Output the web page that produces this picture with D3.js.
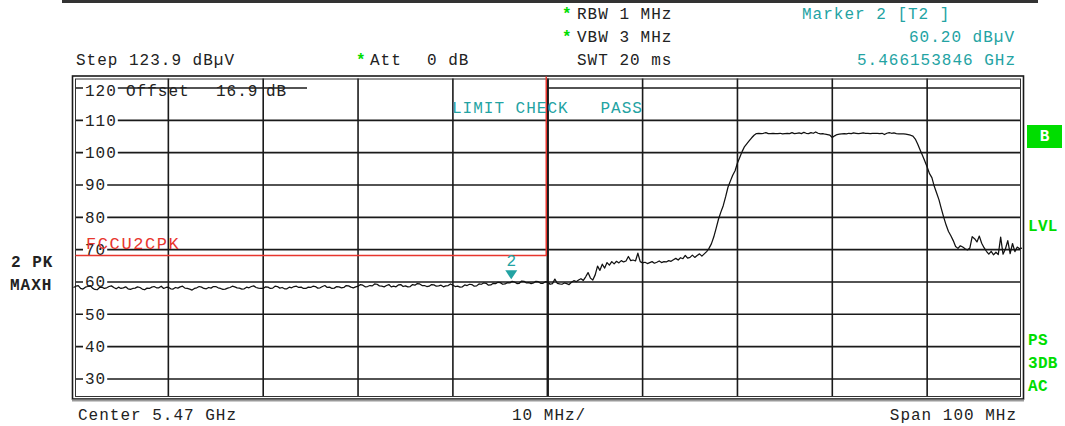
<!DOCTYPE html>
<html><head><meta charset="utf-8">
<script src="https://cdn.jsdelivr.net/npm/d3@7"></script>
<style>
body{margin:0;background:#fff}
svg{display:block;font-family:"Liberation Mono",monospace}
text{white-space:pre}
</style></head><body>
<svg id="c" width="1065" height="426"></svg>
<script>
// ---- data ----
const sweepStartGHz = 5.42;
const sweepStopGHz = 5.52;
const sweepStepGHz = 0.00025;
const traceLevels = [
58.3,58.7,58.9,58.0,57.8,58.4,58.6,58.9,58.1,57.7,57.6,58.3,58.4,58.0,58.2,58.6,58.8,58.3,57.9,58.4,
58.0,58.2,58.5,57.9,57.7,58.0,58.1,58.5,58.3,57.8,57.6,58.1,58.0,58.4,58.6,58.2,58.2,58.7,58.0,58.3,
58.4,57.9,57.8,58.3,58.1,58.5,58.7,58.1,58.0,57.8,57.5,58.0,58.2,58.6,58.4,58.0,57.9,58.3,58.1,58.6,
58.6,58.2,58.0,57.7,57.8,58.1,58.3,58.7,58.5,58.2,58.1,57.8,57.9,58.4,58.2,58.6,58.8,58.3,58.1,58.0,
58.0,58.5,58.4,58.0,58.1,58.7,58.6,58.1,58.3,57.9,57.9,58.4,58.2,58.6,58.7,58.3,58.4,58.0,58.0,58.4,
58.3,58.7,58.6,58.1,58.2,58.6,58.9,58.3,58.4,58.0,58.1,58.6,58.5,58.2,58.3,58.9,58.8,58.4,58.2,58.5,
58.7,59.2,59.0,58.5,58.6,58.9,58.8,59.4,59.3,58.8,58.7,58.5,58.9,59.2,58.5,58.7,58.5,59.1,59.2,58.6,
58.8,58.5,58.6,59.2,59.0,59.5,59.4,58.9,58.9,58.6,58.7,59.2,59.1,58.7,58.8,59.0,58.5,58.8,58.9,59.4,
59.0,58.6,58.7,58.4,58.5,59.1,58.9,59.3,59.2,58.7,58.8,59.4,59.3,59.7,59.6,59.0,59.1,59.6,59.5,59.9,
59.8,59.3,59.4,59.8,59.7,60.2,60.0,59.5,59.6,60.3,60.2,59.7,59.8,59.5,59.7,60.2,60.1,59.6,59.6,60.1,
60.0,
59.3,59.5,60.9,59.6,59.4,59.3,59.7,59.5,59.2,59.9,60.4,60.1,60.6,61.0,60.5,61.6,62.9,61.2,60.6,62.2,
64.9,63.6,65.5,64.3,66.0,65.2,66.3,65.6,66.4,65.9,66.6,66.2,66.5,67.9,66.6,66.8,66.5,68.9,66.3,65.9,
66.1,65.7,66.0,66.3,65.8,66.1,66.5,66.0,66.3,66.2,66.6,66.4,66.9,67.3,66.8,67.5,67.2,68.2,67.4,67.6,
68.3,67.6,68.2,68.7,68.0,68.7,69.4,70.4,71.8,73.9,76.6,79.4,81.6,83.6,86.3,89.3,91.2,93.0,94.4,96.8,
98.6,100.4,101.9,102.8,103.7,104.6,105.4,105.9,106.0,105.9,106.0,106.2,105.9,105.9,106.0,105.9,105.9,106.0,105.8,105.9,
106.0,105.9,106.2,105.9,106.0,106.1,105.9,106.3,106.0,105.9,106.2,106.0,106.4,106.0,105.8,105.9,105.7,105.6,105.4,104.7,
105.2,105.6,105.7,105.8,105.9,105.8,106.0,105.9,106.1,106.0,105.9,106.0,106.1,106.0,106.0,105.9,106.0,106.0,106.0,105.9,
106.0,105.6,106.0,106.2,106.0,106.1,105.9,105.8,105.8,105.8,105.7,105.6,105.4,105.1,104.2,102.7,100.9,99.2,97.4,95.6,
93.5,92.3,89.6,87.5,85.4,82.6,80.0,77.6,75.6,74.3,72.8,71.0,70.4,71.2,70.8,70.3,69.9,70.5,74.0,73.4,
72.4,74.2,72.0,70.6,69.5,68.6,69.5,68.4,69.2,68.5,73.9,68.6,70.2,72.8,68.8,71.9,69.4,70.8,70.3,70.5
];
const yTicks = [120,110,100,90,80,70,60,50,40,30];
const yDomain = [23.9, 123.9];
const xGridGHz = [5.43,5.44,5.45,5.46,5.47,5.48,5.49,5.50,5.51];
const limitFreqGHz = [5.42, 5.47];
const limitLevel = 68.2;
const limitName = "FCCU2CPK";
const markerFreqGHz = 5.466153846;
const markerLevel = 60.2;
const markerLabel = "2";

// ---- layout ----
const svg = d3.select("#c");
const L = 73.5, R = 1022, T = 75.4, B = 398.7;
const x = d3.scaleLinear().domain([sweepStartGHz, sweepStopGHz]).range([L, R]);
const y = d3.scaleLinear().domain(yDomain).range([B, T]);
const ink = "#222", teal = "#23a3a3", green = "#00dd00", red = "#e8362e";
const FS = 16, LS = 1;

svg.append("rect").attr("width",1065).attr("height",426).attr("fill","#fff");

function txt(s, px, py, opt={}) {
  return svg.append("text").attr("x",px).attr("y",py).text(s)
    .attr("font-size", opt.fs||FS).attr("letter-spacing", opt.ls!=null?opt.ls:LS)
    .attr("fill", opt.fill||ink).attr("font-weight", opt.fw||"normal")
    .attr("text-anchor", opt.anchor||"start");
}

// top rule
svg.append("line").attr("x1",62).attr("x2",1038).attr("y1",1.5).attr("y2",1.5)
  .attr("stroke","#333").attr("stroke-width",3);

// header
txt("*",562,19,{fill:green,fw:"bold"});
txt("RBW 1 MHz",577,19);
txt("*",562,42,{fill:green,fw:"bold"});
txt("VBW 3 MHz",577,42);
txt("SWT 20 ms",577,65);
txt("Step 123.9 dB\u00b5V",76,65);
txt("*",356,65,{fill:green,fw:"bold"});
txt("Att",370,65);
txt("0 dB",427,65);
txt("Marker 2 [T2 ]",802,19,{fill:teal});
txt("60.20 dB\u00b5V",1015,42,{fill:teal,anchor:"end"});
txt("5.466153846 GHz",1016,65,{fill:teal,anchor:"end"});

// grid
const grid = svg.append("g").attr("stroke","#1a1a1a").attr("stroke-width",1.6);
grid.selectAll("line.v").data(xGridGHz).join("line")
  .attr("x1",d=>x(d)).attr("x2",d=>x(d)).attr("y1",T+3).attr("y2",B-2)
  .attr("stroke-width",d=>Math.abs(d-5.47)<1e-9?2.4:1.6);
grid.selectAll("line.h").data(yTicks.filter(d=>d!==120)).join("line")
  .attr("x1",L+2).attr("x2",R-1).attr("y1",d=>y(d)).attr("y2",d=>y(d));
// 120 line (partial, as in reference)
grid.append("line").attr("x1",L+2).attr("x2",307).attr("y1",y(120)).attr("y2",y(120));
grid.append("line").attr("x1",x(5.47)).attr("x2",R-1).attr("y1",y(120)).attr("y2",y(120));

// frame
svg.append("rect").attr("x",72.5).attr("y",76).attr("width",1023.5-72.5).attr("height",399-76)
  .attr("fill","none").attr("stroke","#1a1a1a").attr("stroke-width",1.6);
svg.append("rect").attr("x",75.5).attr("y",79).attr("width",1020.5-75.5).attr("height",396.5-79)
  .attr("fill","none").attr("stroke","#333").attr("stroke-width",1);
svg.append("line").attr("x1",72).attr("x2",1024).attr("y1",400.5).attr("y2",400.5)
  .attr("stroke","#999").attr("stroke-width",2);

// y labels with white background
const lab = svg.append("g");
yTicks.forEach(v=>{
  const s = String(v);
  const top = v===120;
  const by = top ? 96 : y(v)+5.5;
  if(!top) lab.append("rect").attr("x",83).attr("y",y(v)-7).attr("width",s.length*10.6+3).attr("height",14).attr("fill","#fff");
  else lab.append("rect").attr("x",83).attr("y",y(v)-2).attr("width",s.length*10.6+3).attr("height",3).attr("fill","#fff");
  lab.append("text").attr("x",85).attr("y",by).text(s)
    .attr("font-size",FS).attr("letter-spacing",LS).attr("fill",ink);
});
txt("Offset",126,96);
txt("16.9",216,96);
txt("dB",266,96);

// limit line
svg.append("path")
  .attr("d", d3.line()([[x(limitFreqGHz[0])+2, y(limitLevel)], [x(limitFreqGHz[1])-1.5, y(limitLevel)], [x(limitFreqGHz[1])-1.5, T+1]]))
  .attr("fill","none").attr("stroke",red).attr("stroke-width",1.5);
txt(limitName,86,249,{fill:red,fs:17,ls:1.6});
txt("LIMIT CHECK   PASS",452,113,{fill:teal});

// trace
const pts = traceLevels.map((v,i)=>[sweepStartGHz + i*sweepStepGHz, v]);
svg.append("path").datum(pts)
  .attr("d", d3.line().x(d=>x(d[0])).y(d=>y(d[1])))
  .attr("fill","none").attr("stroke","#111").attr("stroke-width",1.25).attr("stroke-linejoin","round");

// marker
const mx = x(markerFreqGHz), my = y(markerLevel);
svg.append("path").attr("d",`M${mx-6},${my-11}L${mx+6},${my-11}L${mx},${my-2}Z`).attr("fill",teal);
txt(markerLabel,mx,266,{fill:teal,anchor:"middle",ls:0});

// left trace labels
txt("2 PK",11,267,{fw:"bold"});
txt("MAXH",10,290,{fw:"bold"});

// right status labels
svg.append("rect").attr("x",1027).attr("y",125).attr("width",35).attr("height",23).attr("fill",green);
txt("B",1044.5,141,{fill:"#fff",fw:"bold",anchor:"middle",ls:0});
txt("LVL",1028,231,{fill:green,fw:"bold",ls:0.3});
txt("PS",1028,345,{fill:green,fw:"bold",ls:0.3});
txt("3DB",1028,368,{fill:green,fw:"bold",ls:0.3});
txt("AC",1028,391,{fill:green,fw:"bold",ls:0.3});

// bottom
txt("Center 5.47 GHz",78,420);
txt("10 MHz/",512,420);
txt("Span 100 MHz",1017,420,{anchor:"end"});
</script>
</body></html>
